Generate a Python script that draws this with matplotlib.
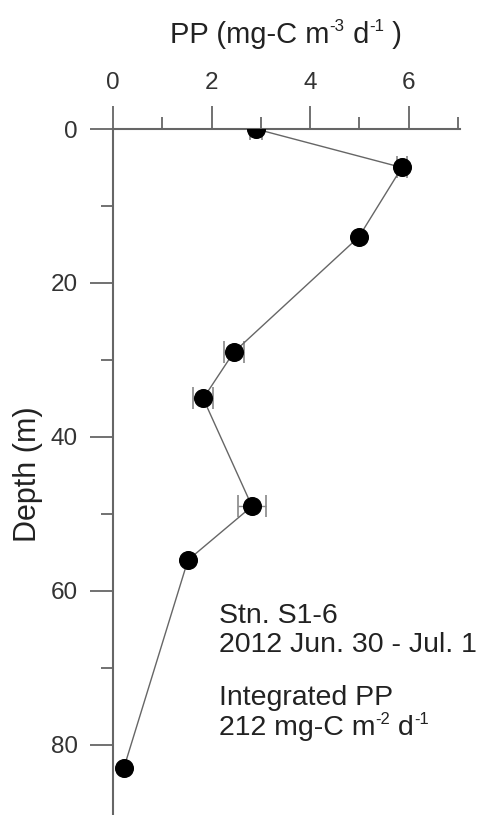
import numpy as np
import matplotlib.pyplot as plt

plt.rcParams['font.family'] = ['Liberation Sans', 'DejaVu Sans']

depth = [0, 5, 14, 29, 35, 49, 56, 83]
pp = [2.9, 5.86, 4.99, 2.45, 1.83, 2.82, 1.52, 0.22]
pp_err = [0.12, 0.1, 0, 0.2, 0.2, 0.29, 0, 0]

W, H = 480, 815
fig = plt.figure(figsize=(W / 100, H / 100), dpi=100)
ax = fig.add_axes([113 / W, 0, 347 / W, 1 - 129 / H])

# error bars only where the picture shows them
idx = [i for i, e in enumerate(pp_err) if e > 0]
ax.errorbar([pp[i] for i in idx], [depth[i] for i in idx],
            xerr=[pp_err[i] for i in idx], fmt='none', ecolor='#888888',
            elinewidth=1, capsize=8, capthick=1.2, zorder=2)
ax.plot(pp, depth, color='#666666', lw=1, zorder=3)
ax.plot(pp, depth, 'o', color='black', ms=12.7, zorder=4)

ax.set_xlim(0, 7.04)
ax.set_ylim(89.1, 0)
ax.xaxis.tick_top()
ax.set_xticks([0, 2, 4, 6])
ax.set_xticks([1, 3, 5, 7], minor=True)
ax.set_yticks([0, 20, 40, 60, 80])
ax.set_yticks([10, 30, 50, 70], minor=True)

for s in ['right', 'bottom']:
    ax.spines[s].set_visible(False)
for s in ['left', 'top']:
    ax.spines[s].set_color('#666666')
    ax.spines[s].set_linewidth(1.5)

ax.tick_params(which='major', direction='out', length=16.5, width=1.3,
               color='#666666', labelsize=17.5, labelcolor='#333333', pad=9)
ax.tick_params(which='minor', direction='out', length=8.6, width=1.3,
               color='#666666')

ax.set_ylabel('Depth (m)', fontsize=22, color='#222222')
ax.yaxis.set_label_coords(-0.202, 0.497)


# text with small superscripts, built piece by piece (positions in pixels)
def rich_text(x0, y0, parts, size, center=False):
    r = fig.canvas.get_renderer()
    x = x0
    items = []
    for s, sup in parts:
        fs = size * 0.58 if sup else size
        dy = size * 0.55 if sup else 0
        t = fig.text(x / W, 1 - (y0 - dy) / H, s, fontsize=fs,
                     color='#222222', va='baseline', ha='left')
        x = t.get_window_extent(r).x1
        items.append(t)
    if center:
        shift = (x - x0) / 2
        for t in items:
            px, py = t.get_position()
            t.set_position((px - shift / W, py))


rich_text(286, 43, [('PP (mg-C m', False), ('-3', True), (' d', False),
                    ('-1', True), (' )', False)], 21, center=True)

lines = ['Stn. S1-6', '2012 Jun. 30 - Jul. 1', 'Integrated PP']
baselines = [623, 652, 705]
for s, yb in zip(lines, baselines):
    fig.text(219 / W, 1 - yb / H, s, fontsize=20.5, color='#222222',
             va='baseline')
rich_text(219, 735, [('212 mg-C m', False), ('-2', True), (' d', False),
                     ('-1', True)], 20.5)

fig.savefig('out.png', dpi=100)
